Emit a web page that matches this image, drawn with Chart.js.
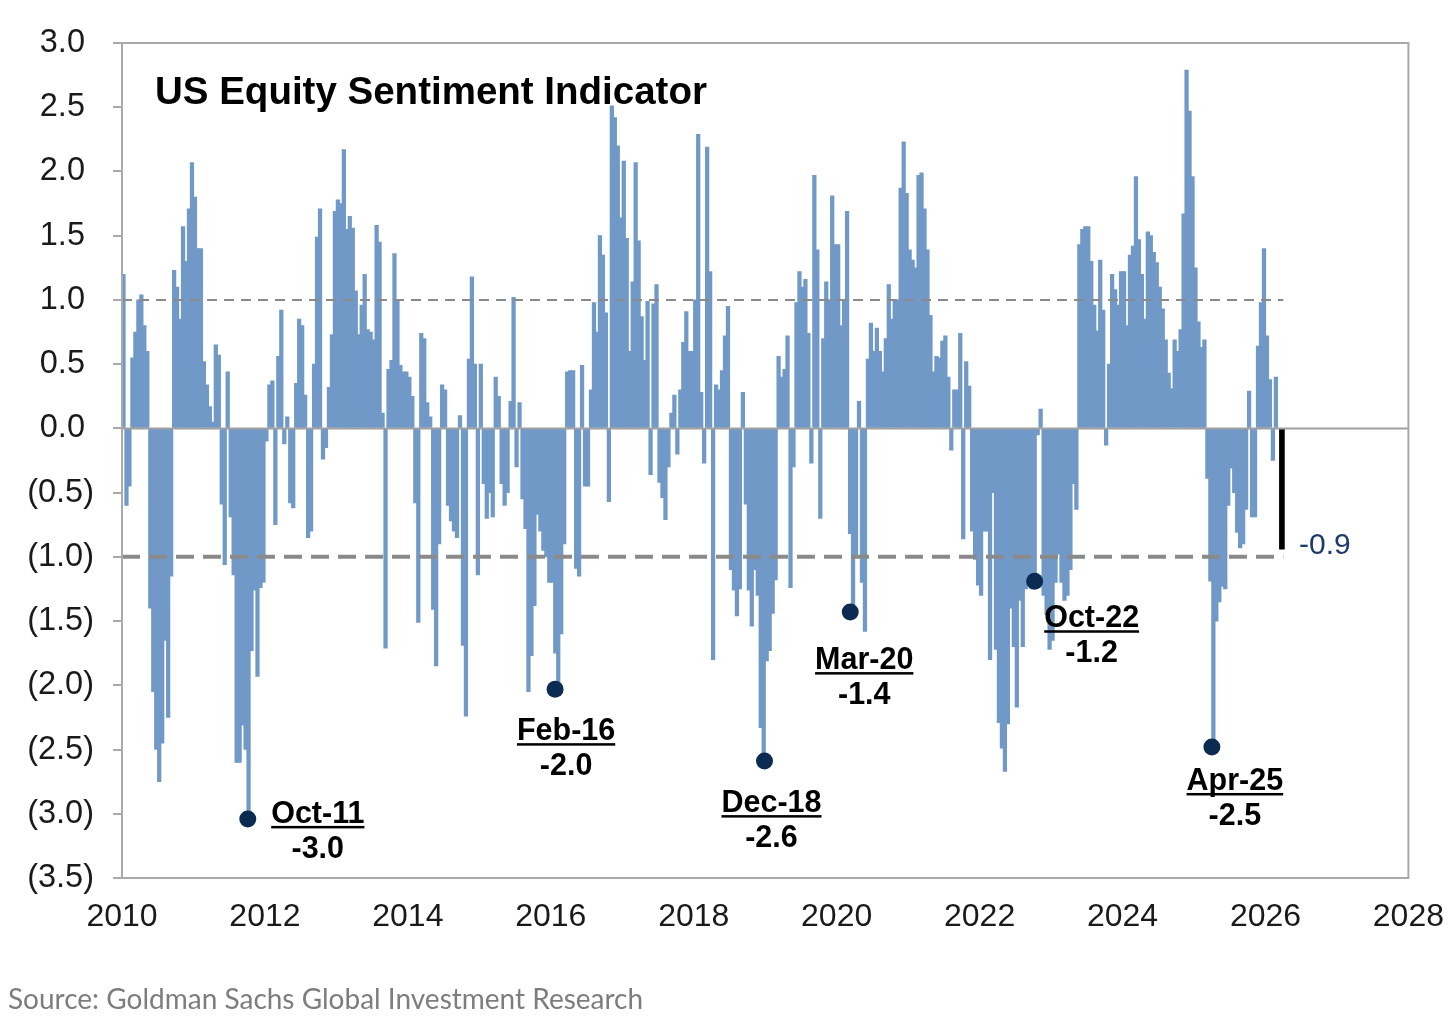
<!DOCTYPE html>
<html>
<head>
<meta charset="utf-8">
<script src="https://cdn.jsdelivr.net/npm/chart.js@4.4.1/dist/chart.umd.min.js"></script>
<style>
  html, body { margin: 0; background: #fff; }
  #wrap { width: 1456px; height: 1020px; }
</style>
</head>
<body>
<div id="wrap"><canvas id="chart" width="1456" height="1020"></canvas></div>
<script>
// Weekly-ish readings at two values per month
const v2010 = [1.2,-0.6,-0.45,0.55,0.75,1.0,1.04,0.8,0.6,-1.4,-2.05,-2.5,-2.75,-2.45,-1.65,-2.25,-1.15,1.23,1.1,0.85,1.57,1.3,1.71,2.07];
const v2011 = [1.8,1.4,1.4,0.52,0.34,0.17,0.05,0.65,0.57,-0.59,-1.06,0.44,-0.69,-1.14,-2.6,-2.6,-2.31,-2.5,-2.98,-1.73,-1.26,-1.93,-1.24,-1.2];
const v2012 = [-0.1,0.34,0.37,-0.75,0.56,0.92,-0.12,0.09,-0.58,-0.62,0.35,0.85,0.8,0.26,-0.85,-0.8,0.5,1.49,1.71,-0.24,-0.15,0.32,0.73,1.69];
const v2013 = [1.78,1.75,2.17,1.55,1.65,1.56,1.07,0.73,0.96,1.2,0.77,0.75,0.69,1.58,1.45,0.12,-1.71,0.46,0.53,1.36,1.0,0.49,0.44,0.44];
const v2014 = [0.4,0.25,-0.58,-1.51,0.74,0.7,0.2,0.09,-1.41,-1.85,-0.9,0.34,0.3,-0.6,-0.72,-0.8,-0.85,0.1,-1.69,-2.24,0.54,1.18,0.5,-1.14];
const v2015 = [0.5,-0.43,-0.7,-0.5,-0.69,0.4,0.25,-0.43,-0.6,-0.5,0.21,1.02,-0.3,0.2,-0.55,-0.78,-2.05,-1.77,-1.38,-0.67,-0.8,-0.95,-1.0,-1.2];
const v2016 = [-1.2,-1.75,-2.0,-1.6,-0.9,0.44,0.45,0.45,-1.09,-1.15,0.49,-0.45,-0.45,0.3,0.98,0.75,1.5,1.35,0.9,-0.57,2.51,2.42,2.2,1.64];
const v2017 = [2.08,1.48,0.6,1.14,2.07,1.46,0.87,0.53,0.99,-0.36,0.97,1.12,-0.42,-0.54,-0.71,-0.3,0.12,0.26,-0.2,0.3,0.67,0.91,0.6,0.6];
const v2018 = [1.0,2.29,0.28,-0.27,2.19,1.22,-1.8,0.34,0.3,0.45,0.72,0.95,-1.1,-1.26,-1.46,-1.25,0.28,-0.59,-1.26,-1.54,-1.1,-1.3,-2.33,-2.6];
const v2019 = [-1.81,-1.73,-1.44,-1.18,0.56,0.4,0.46,0.72,-1.24,-0.3,0.98,1.22,1.1,1.16,0.74,-0.27,1.97,1.39,-0.7,0.7,1.14,1.0,1.81,1.43];
const v2020 = [1.43,0.8,1.0,1.69,-0.82,-1.4,-1.0,0.21,-1.2,-1.58,0.54,0.82,0.6,0.78,0.6,0.44,0.7,1.12,0.85,1.0,1.0,1.87,2.23,1.83];
const v2021 = [1.39,1.31,1.25,1.97,1.99,1.71,1.39,0.88,0.44,0.56,0.55,0.68,0.72,0.4,-0.17,0.3,0.3,0.74,-0.86,0.52,0.33,-0.8,-1.02,-1.22];
const v2022 = [-1.3,-0.8,-0.8,-1.8,-0.5,-1.72,-2.29,-2.49,-2.67,-2.3,-1.4,-1.7,-2.17,-1.34,-1.7,-1.25,-1.2,-1.25,-1.19,-0.05,0.15,-1.3,-1.45,-1.72];
const v2023 = [-1.65,-1.2,-0.98,-1.2,-1.34,-1.3,-1.1,-0.43,-0.63,1.43,1.55,1.57,1.57,1.3,0.96,0.76,1.31,0.92,-0.13,0.5,1.2,1.08,0.96,1.22];
const v2024 = [1.22,0.8,1.35,1.42,1.96,1.47,1.2,0.85,1.53,1.5,1.37,1.29,1.1,0.93,0.69,0.43,0.31,0.69,0.6,0.77,1.67,2.79,2.47,1.96];
const v2025 = [1.25,0.83,0.63,0.69,-0.39,-1.19,-2.48,-1.5,-1.35,-1.23,-1.25,-0.6,-0.31,-0.5,-0.81,-0.93,-0.9,-0.63,0.29,-0.69,-0.69,0.64,0.98,1.4];
const v2026 = [0.72,0.38,-0.25,0.4];

// Latest reading (black bar)
const latestDate = 2026.23;
const latestValue = -0.94;
const latestLabel = '-0.9';

// Marked troughs
const troughLabels = ['Oct-11', 'Feb-16', 'Dec-18', 'Mar-20', 'Oct-22', 'Apr-25'];
const troughDates = [2011.76, 2016.06, 2018.99, 2020.19, 2022.77, 2025.25];
const troughValues = [-3.04, -2.03, -2.59, -1.43, -1.19, -2.48];
const troughTexts = ['-3.0', '-2.0', '-2.6', '-1.4', '-1.2', '-2.5'];

const yearTicks = [2010, 2012, 2014, 2016, 2018, 2020, 2022, 2024, 2026, 2028];

const series = [v2010, v2011, v2012, v2013, v2014, v2015, v2016, v2017, v2018,
                v2019, v2020, v2021, v2022, v2023, v2024, v2025, v2026];
const points = [];
series.forEach((arr, yi) => {
  arr.forEach((v, i) => points.push({ x: 2010 + yi + (i + 0.5) / 24, y: v }));
});

const barColor = '#7199c7';
const axisGray = '#a9a9a9';
const labelFont = "'Liberation Sans', Arial, sans-serif";

// label offsets from each trough dot (px)
const labelOffsets = [[70, 4], [11, 51], [7, 51], [14, 57], [57, 46], [23, 43]];

const decor = {
  id: 'decor',
  afterDatasetsDraw(chart) {
    const { ctx, chartArea: a, scales: { x, y } } = chart;
    const endX = x.getPixelForValue(2026.25);
    ctx.save();
    // zero line
    ctx.strokeStyle = '#a0a0a0';
    ctx.lineWidth = 2;
    ctx.beginPath();
    ctx.moveTo(a.left, y.getPixelForValue(0));
    ctx.lineTo(a.right, y.getPixelForValue(0));
    ctx.stroke();
    // +1 / -1 thresholds
    ctx.strokeStyle = '#8a8a8a';
    ctx.lineWidth = 2;
    ctx.setLineDash([10, 7]);
    ctx.beginPath();
    ctx.moveTo(a.left, y.getPixelForValue(1));
    ctx.lineTo(endX, y.getPixelForValue(1));
    ctx.stroke();
    ctx.lineWidth = 4;
    ctx.setLineDash([18, 9]);
    ctx.beginPath();
    ctx.moveTo(a.left, y.getPixelForValue(-1));
    ctx.lineTo(endX, y.getPixelForValue(-1));
    ctx.stroke();
    ctx.setLineDash([]);
    // plot frame
    ctx.strokeStyle = axisGray;
    ctx.lineWidth = 2;
    ctx.strokeRect(a.left, a.top, a.right - a.left, a.bottom - a.top);
    ctx.restore();
  },
  afterDraw(chart) {
    const { ctx, scales: { x, y } } = chart;
    ctx.save();
    // title
    ctx.fillStyle = '#000';
    ctx.font = "bold 38.5px " + labelFont;
    ctx.textAlign = 'left';
    ctx.textBaseline = 'alphabetic';
    ctx.fillText('US Equity Sentiment Indicator', 155, 104);

    // trough labels
    ctx.textAlign = 'center';
    troughLabels.forEach((lab, i) => {
      const px = x.getPixelForValue(troughDates[i]) + labelOffsets[i][0];
      const py = y.getPixelForValue(troughValues[i]) + labelOffsets[i][1];
      ctx.font = "bold 30.5px " + labelFont;
      ctx.fillText(lab, px, py);
      const w = ctx.measureText(lab).width;
      ctx.fillRect(px - w / 2, py + 3, w, 2.5);
      ctx.fillText(troughTexts[i], px, py + 35);
    });

    // latest value label
    ctx.fillStyle = '#1c3a6a';
    ctx.font = "30px " + labelFont;
    ctx.textAlign = 'left';
    ctx.textBaseline = 'middle';
    ctx.fillText(latestLabel, 1299, y.getPixelForValue(latestValue) - 3);

    // source
    ctx.fillStyle = '#7d7d7d';
    ctx.font = "28px Lato, 'Open Sans', sans-serif";
    ctx.textBaseline = 'alphabetic';
    ctx.fillText('Source: Goldman Sachs Global Investment Research', 8, 1009);
    ctx.restore();
  }
};

new Chart(document.getElementById('chart'), {
  type: 'bar',
  data: {
    datasets: [
      {
        type: 'scatter',
        data: troughDates.map((d, i) => ({ x: d, y: troughValues[i] })),
        pointRadius: 8.5,
        pointBackgroundColor: '#0c2b52',
        pointBorderWidth: 0,
        order: 0
      },
      {
        data: points,
        backgroundColor: barColor,
        barThickness: 3.6,
        grouped: false,
        order: 2
      },
      {
        data: [{ x: latestDate, y: latestValue }],
        backgroundColor: '#000',
        barThickness: 5,
        grouped: false,
        order: 1
      }
    ]
  },
  options: {
    responsive: false,
    animation: false,
    devicePixelRatio: 1,
    layout: { padding: { left: 0, right: 46, top: 43, bottom: 62 } },
    plugins: { legend: { display: false }, tooltip: { enabled: false } },
    scales: {
      x: {
        type: 'linear',
        offset: false,
        min: 2010,
        max: 2028,
        afterFit: s => { s.height = 80; },
        afterBuildTicks: s => { s.ticks = yearTicks.map(v => ({ value: v })); },
        grid: { display: false, offset: false },
        border: { display: false },
        ticks: {
          padding: 12,
          color: '#1a1a1a',
          font: { family: labelFont, size: 32 },
          callback: v => String(v)
        }
      },
      y: {
        min: -3.5,
        max: 3.0,
        afterFit: s => { s.width = 122; },
        grid: { drawOnChartArea: false, tickLength: 9, color: axisGray, lineWidth: 2 },
        border: { display: false },
        ticks: {
          stepSize: 0.5,
          padding: 19,
          color: '#1a1a1a',
          font: { family: labelFont, size: 32.5 },
          // positives keep a trailing space where negatives have ")"
          callback: v => v < 0 ? '(' + Math.abs(v).toFixed(1) + ')' : v.toFixed(1) + ' '
        }
      }
    }
  },
  plugins: [decor]
});
</script>
</body>
</html>
